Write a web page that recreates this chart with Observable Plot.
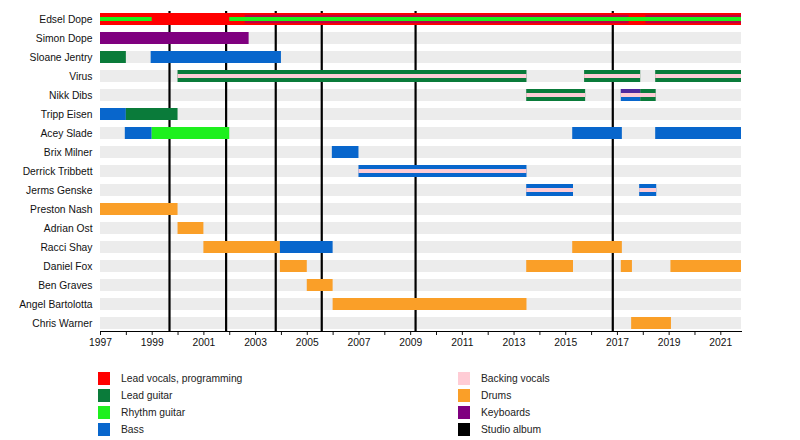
<!DOCTYPE html>
<html>
<head>
<meta charset="utf-8">
<script src="https://cdn.jsdelivr.net/npm/d3@7"></script>
<script src="https://cdn.jsdelivr.net/npm/@observablehq/plot@0.6"></script>
<style>
  body { margin: 0; background: #fff; font-family: "Liberation Sans", Arial, sans-serif; }
  #chart { width: 800px; }
  #legend { position: relative; width: 800px; height: 85px; font-size: 10.3px; color: #222; }
  .item { position: absolute; height: 13px; line-height: 13px; white-space: nowrap; }
  .sw { position: absolute; left: 0; top: 0; width: 12px; height: 13px; }
  .lb { position: absolute; left: 23px; top: 0; }
</style>
</head>
<body>
<div id="chart"></div>
<div id="legend"></div>
<script>
// ---------- data ----------
const members = ["Edsel Dope", "Simon Dope", "Sloane Jentry", "Virus", "Nikk Dibs", "Tripp Eisen",
  "Acey Slade", "Brix Milner", "Derrick Tribbett", "Jerms Genske", "Preston Nash", "Adrian Ost",
  "Racci Shay", "Daniel Fox", "Ben Graves", "Angel Bartolotta", "Chris Warner"];
const startYear = 1997;
const endYear = 2021.8;
const tickYears = d3.range(1997, 2022);
const roles = ["Lead vocals, programming", "Lead guitar", "Rhythm guitar", "Bass",
  "Backing vocals", "Drums", "Keyboards", "Studio album"];
const roleColors = ["#ff0000", "#0a7b3a", "#1ef01e", "#0866cc",
  "#ffccd5", "#fa9f28", "#7f007f", "#000000"];
const albumYears = [1999.67, 2001.86, 2003.78, 2005.56, 2009.19, 2016.82];

// main (full-height) spans: member, role, start, end
const mainSpans = [
  ["Edsel Dope", "Lead vocals, programming", 1997, 2021.8],
  ["Simon Dope", "Keyboards", 1997, 2002.75],
  ["Sloane Jentry", "Lead guitar", 1997, 1998.0],
  ["Sloane Jentry", "Bass", 1998.96, 2004.0],
  ["Virus", "Lead guitar", 2000.0, 2013.5],
  ["Virus", "Lead guitar", 2015.73, 2017.9],
  ["Virus", "Lead guitar", 2018.48, 2021.8],
  ["Nikk Dibs", "Lead guitar", 2013.49, 2015.77],
  ["Nikk Dibs", "Bass", 2017.15, 2017.9],
  ["Nikk Dibs", "Lead guitar", 2017.9, 2018.5],
  ["Tripp Eisen", "Bass", 1997, 1998.0],
  ["Tripp Eisen", "Lead guitar", 1998.0, 2000.0],
  ["Acey Slade", "Bass", 1997.96, 1999.0],
  ["Acey Slade", "Rhythm guitar", 1999.0, 2002.0],
  ["Acey Slade", "Bass", 2015.27, 2017.19],
  ["Acey Slade", "Bass", 2018.48, 2021.8],
  ["Brix Milner", "Bass", 2005.97, 2007.0],
  ["Derrick Tribbett", "Bass", 2007.0, 2013.5],
  ["Jerms Genske", "Bass", 2013.49, 2015.3],
  ["Jerms Genske", "Bass", 2017.86, 2018.52],
  ["Preston Nash", "Drums", 1997, 2000.0],
  ["Adrian Ost", "Drums", 2000.0, 2001.0],
  ["Racci Shay", "Drums", 2001.0, 2003.96],
  ["Racci Shay", "Bass", 2003.96, 2006.0],
  ["Racci Shay", "Drums", 2015.27, 2017.19],
  ["Daniel Fox", "Drums", 2003.96, 2005.0],
  ["Daniel Fox", "Drums", 2013.49, 2015.3],
  ["Daniel Fox", "Drums", 2017.15, 2017.58],
  ["Daniel Fox", "Drums", 2019.07, 2021.8],
  ["Ben Graves", "Drums", 2005.0, 2006.0],
  ["Angel Bartolotta", "Drums", 2006.0, 2013.5],
  ["Chris Warner", "Drums", 2017.55, 2019.09]
];
// secondary roles drawn as a middle band
const middleSpans = [
  ["Edsel Dope", "Keyboards", 2002.6, 2017.45],
  ["Edsel Dope", "Keyboards", 2018.1, 2021.8]
];
// secondary roles drawn along the top edge
const topSpans = [
  ["Nikk Dibs", "Keyboards", 2017.15, 2017.9]
];
// secondary roles drawn as a thin centre stripe
const stripeSpans = [
  ["Edsel Dope", "Rhythm guitar", 1997, 1999.0],
  ["Edsel Dope", "Rhythm guitar", 2002.0, 2021.8],
  ["Virus", "Backing vocals", 2000.0, 2013.5],
  ["Virus", "Backing vocals", 2015.73, 2017.9],
  ["Virus", "Backing vocals", 2018.48, 2021.8],
  ["Nikk Dibs", "Backing vocals", 2013.49, 2015.77],
  ["Nikk Dibs", "Backing vocals", 2017.15, 2018.5],
  ["Derrick Tribbett", "Backing vocals", 2007.0, 2013.5],
  ["Jerms Genske", "Backing vocals", 2013.49, 2015.3],
  ["Jerms Genske", "Backing vocals", 2017.86, 2018.52]
];

// ---------- chart ----------
const toObj = a => a.map(([member, role, start, end]) => ({member, role, start, end}));
const colorOf = Object.fromEntries(roles.map((r, i) => [r, roleColors[i]]));

const chart = Plot.plot({
  width: 800,
  height: 355,
  marginLeft: 100,
  marginRight: 59,
  marginTop: 11,
  marginBottom: 24,
  style: {fontFamily: "'Liberation Sans', Arial, sans-serif", fontSize: "10.3px", color: "#111", background: "#fff"},
  x: {domain: [startYear, endYear]},
  y: {domain: members, paddingInner: 0.376, paddingOuter: 0},
  color: {domain: roles, range: roleColors},
  marks: [
    Plot.barX(members, {y: d => d, x1: () => startYear, x2: () => endYear, fill: "#ececec"}),
    Plot.ruleX(albumYears, {x: d => d, stroke: colorOf["Studio album"], strokeWidth: 2.2}),
    Plot.barX(toObj(mainSpans), {y: "member", x1: "start", x2: "end", fill: "role"}),
    Plot.barX(toObj(middleSpans), {y: "member", x1: "start", x2: "end", fill: "role", fillOpacity: 0.5, insetTop: 1.8, insetBottom: 1.8}),
    Plot.barX(toObj(topSpans), {y: "member", x1: "start", x2: "end", fill: "role", fillOpacity: 0.6, insetBottom: 8}),
    Plot.barX(toObj(stripeSpans), {y: "member", x1: "start", x2: "end", fill: "role", insetTop: 4, insetBottom: 4}),
    Plot.axisY({tickSize: 0, tickPadding: 8, label: null}),
    Plot.axisX({ticks: tickYears, tickFormat: d => d % 2 ? String(d) : "", tickSize: 4, tickPadding: 3, label: null}),
    Plot.frame({anchor: "bottom", stroke: "#000"})
  ]
});
document.getElementById("chart").appendChild(chart);

// ---------- legend ----------
const legend = document.getElementById("legend");
const colLeft = [98, 458];
const rowTop = [17, 34, 51, 68];
roles.forEach((r, i) => {
  const col = Math.floor(i / 4), row = i % 4;
  const it = document.createElement("div");
  it.className = "item";
  it.style.left = colLeft[col] + "px";
  it.style.top = rowTop[row] + "px";
  const sw = document.createElement("div");
  sw.className = "sw";
  sw.style.background = roleColors[i];
  const lb = document.createElement("div");
  lb.className = "lb";
  lb.textContent = r;
  it.appendChild(sw); it.appendChild(lb);
  legend.appendChild(it);
});
</script>
</body>
</html>
